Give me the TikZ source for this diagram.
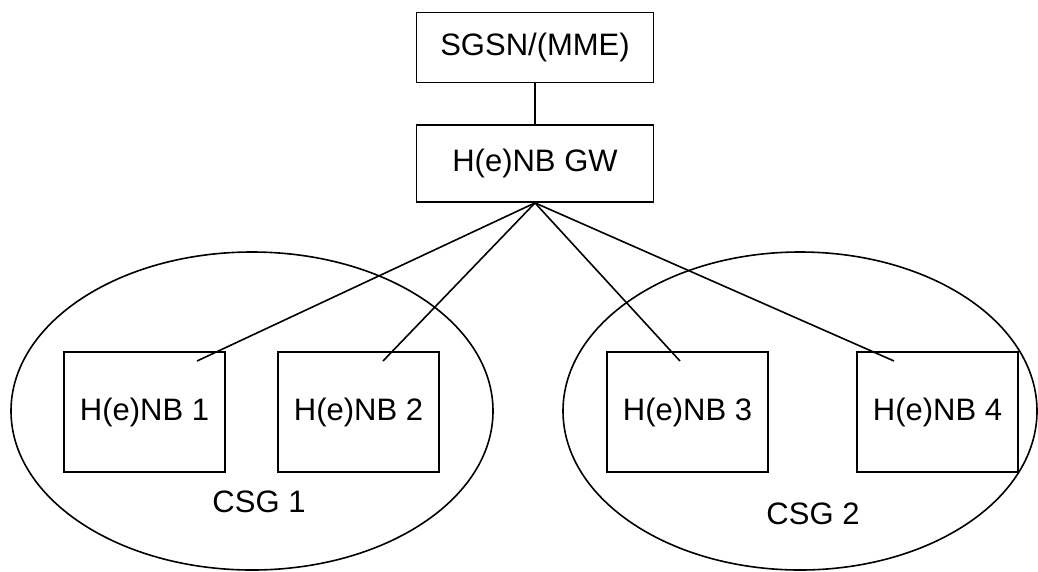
\documentclass[tikz,border=0pt]{standalone}
\usepackage{fontspec}
\setmainfont{Liberation Sans}
\usetikzlibrary{shapes.geometric}
\begin{document}
\begin{tikzpicture}[x=1pt,y=-1pt,
  every node/.style={font=\fontsize{31}{36}\selectfont},
  unitbox/.style={draw,line width=1.8pt,rectangle,inner sep=0pt},
  topbox/.style={unitbox,minimum width=237pt,minimum height=70pt},
  gwbox/.style={unitbox,minimum width=237pt,minimum height=77pt},
  cellbox/.style={unitbox,minimum width=161pt,minimum height=120pt},
  group/.style={draw,line width=1.6pt,ellipse,inner sep=0pt},
  link/.style={line width=1.6pt}]
\useasboundingbox (0,0) rectangle (1038,571);

% closed subscriber groups
\node[group,minimum width=482pt,minimum height=318pt] (csg1) at (252,411) {};
\node[group,minimum width=474pt,minimum height=318pt] (csg2) at (800,411) {};

% core side
\node[topbox] (sgsn) at (535,47.5) {SGSN/(MME)};
\node[gwbox] (gw) at (535,163.5) {H(e)NB GW};
\draw[link] (sgsn.south) -- (gw.north);

% home base stations
\node[cellbox] (h1) at (144.5,412) {H(e)NB 1};
\node[cellbox] (h2) at (358.5,412) {H(e)NB 2};
\node[cellbox] (h3) at (687.5,412) {H(e)NB 3};
\node[cellbox] (h4) at (937.5,412) {H(e)NB 4};

% group labels
\node (l1) at (259,502) {CSG 1};
\node (l2) at (813,514) {CSG 2};

% connector end points inside the cells
\coordinate (e1) at (197,361);
\coordinate (e2) at (383,361);
\coordinate (e3) at (680,361);
\coordinate (e4) at (894,361);

\foreach \e in {e1,e2,e3,e4}
  \draw[link] (gw.south) -- (\e);
\end{tikzpicture}
\end{document}
